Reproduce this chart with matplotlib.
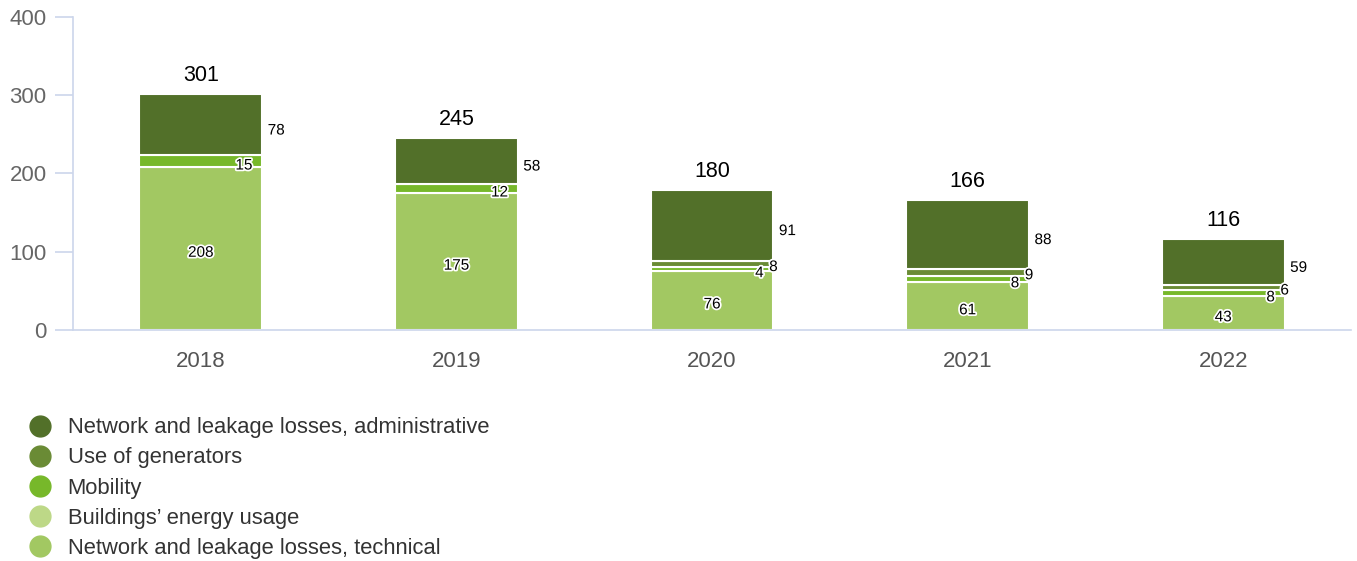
import matplotlib.pyplot as plt
import matplotlib.patheffects as pe
from matplotlib.lines import Line2D
import numpy as np

plt.rcParams['font.family'] = ['Liberation Sans', 'DejaVu Sans']

years = ['2018', '2019', '2020', '2021', '2022']
technical = [208, 175, 76, 61, 43]
buildings = [0, 0, 0, 0, 0]
mobility = [15, 12, 4, 8, 8]
generators = [0, 0, 8, 9, 6]
administrative = [78, 58, 91, 88, 59]
totals = [301, 245, 180, 166, 116]

names = ['Network and leakage losses, technical', 'Buildings\u2019 energy usage',
         'Mobility', 'Use of generators', 'Network and leakage losses, administrative']
colors = ['#a2c862', '#bdd887', '#77b82a', '#6a8b35', '#527029']
series = [technical, buildings, mobility, generators, administrative]
# where each series puts its value label
placing = ['center', 'none', 'inside', 'edge', 'outside']

fig = plt.figure(figsize=(13.57, 5.61), dpi=100)
ax = fig.add_axes([0.0538, 0.4118, 0.9418, 0.5579])

x = np.arange(len(years))
width = 0.48
bottom = np.zeros(len(years))
outline = [pe.withStroke(linewidth=2.5, foreground='white')]

for vals, col, place in zip(series, colors, placing):
    vals = np.array(vals, dtype=float)
    for i in range(len(years)):
        if vals[i] <= 0:
            continue
        ax.bar(x[i], vals[i], width, bottom=bottom[i], color=col,
               edgecolor='white', linewidth=1.5, zorder=2)
        mid = bottom[i] + vals[i] / 2
        txt = str(int(vals[i]))
        right = x[i] + width / 2
        if place == 'center':
            ax.annotate(txt, (x[i], mid), xytext=(0, -3), textcoords='offset points',
                        ha='center', va='center', fontsize=11,
                        path_effects=outline, zorder=4)
        elif place == 'inside':
            ax.annotate(txt, (right, mid), xytext=(-7, -3), textcoords='offset points',
                        ha='right', va='center', fontsize=11, path_effects=outline, zorder=4)
        elif place == 'edge':
            ax.annotate(txt, (right, mid), xytext=(-3, -2), textcoords='offset points',
                        ha='left', va='center', fontsize=11, path_effects=outline, zorder=4)
        else:
            ax.annotate(txt, (right, mid), xytext=(4, -4), textcoords='offset points',
                        ha='left', va='center', fontsize=11, path_effects=outline, zorder=4)
    bottom += vals

for i, t in enumerate(totals):
    ax.annotate(str(t), (x[i], bottom[i]), xytext=(0, 6), textcoords='offset points',
                ha='center', va='bottom', fontsize=15.5, color='black')

ax.set_xlim(-0.5, len(years) - 0.5)
ax.set_ylim(0, 400)
ax.set_yticks([0, 100, 200, 300, 400])
ax.set_xticks(x)
ax.set_xticklabels(years)

axis_col = '#ccd6eb'
for s in ['top', 'right']:
    ax.spines[s].set_visible(False)
ax.spines['left'].set_color(axis_col)
ax.spines['bottom'].set_color(axis_col)
ax.spines['left'].set_linewidth(1.2)
ax.spines['bottom'].set_linewidth(1.2)
ax.tick_params(axis='y', colors=axis_col, labelcolor='#666666', labelsize=16,
               length=13, width=1.2, pad=6)
ax.tick_params(axis='x', length=0, labelcolor='#555555', labelsize=16, pad=15)

handles = [Line2D([], [], marker='o', linestyle='', markersize=15, color=c)
           for c in colors[::-1]]
fig.legend(handles, names[::-1], loc='upper left', bbox_to_anchor=(0.015, 0.272),
           frameon=False, fontsize=15.8, labelcolor='#333333', handletextpad=0.75,
           labelspacing=0.42, borderaxespad=0, handlelength=1.0)

fig.savefig('out.png', dpi=100)
